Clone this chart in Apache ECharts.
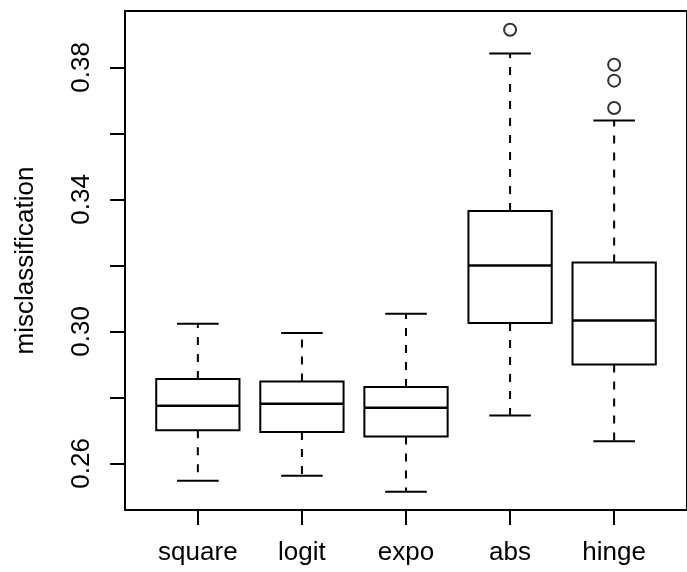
<!DOCTYPE html>
<html>
<head>
<meta charset="utf-8">
<title>misclassification by loss</title>
<script src="https://cdn.jsdelivr.net/npm/echarts@6/dist/echarts.min.js"></script>
<style>
  html, body { margin: 0; padding: 0; background: #ffffff; }
  #chart { width: 687px; height: 572px; }
</style>
</head>
<body>
<div id="chart"></div>
<script>
// Loss functions, one box each
const categories = ['square', 'logit', 'expo', 'abs', 'hinge'];

// Five-number summaries (whisker ends, hinges, median)
const lowerWhisker = [0.2548, 0.2563, 0.2514, 0.2745, 0.2667];
const lowerHinge   = [0.2701, 0.2695, 0.2682, 0.3026, 0.2900];
const medians      = [0.2775, 0.2781, 0.2769, 0.3200, 0.3033];
const upperHinge   = [0.2856, 0.2848, 0.2832, 0.3365, 0.3209];
const upperWhisker = [0.3023, 0.2995, 0.3054, 0.3842, 0.3639];

// Points beyond the whiskers: [box index (1-based), value]
const outliers = [
  [4, 0.3914],
  [5, 0.3808],
  [5, 0.3760],
  [5, 0.3677]
];

// Axis ticks and the subset that carries labels
const yTicks  = [0.26, 0.28, 0.30, 0.32, 0.34, 0.36, 0.38];
const yLabels = [0.26, 0.30, 0.34, 0.38];
const xTicks  = [1, 2, 3, 4, 5];

const FONT = '"Liberation Sans", Arial, Helvetica, sans-serif';
const INK = '#000000';
const LW = 2;

const boxData = categories.map((c, i) => [
  i + 1, lowerWhisker[i], lowerHinge[i], medians[i], upperHinge[i], upperWhisker[i]
]);

function renderBox(params, api) {
  const x = api.value(0);
  const pLo  = api.coord([x, api.value(1)]);
  const pQ1  = api.coord([x, api.value(2)]);
  const pMed = api.coord([x, api.value(3)]);
  const pQ3  = api.coord([x, api.value(4)]);
  const pHi  = api.coord([x, api.value(5)]);
  const boxW = api.size([0.8, 0])[0];
  const capW = boxW * 0.5;
  const cx = pMed[0];
  const solid = { stroke: INK, lineWidth: LW, fill: null };
  const dashed = { stroke: INK, lineWidth: LW, lineDash: [8, 9], fill: null };
  return {
    type: 'group',
    children: [
      // dashed whiskers
      { type: 'line', shape: { x1: cx, y1: pQ3[1], x2: cx, y2: pHi[1] }, style: dashed },
      { type: 'line', shape: { x1: cx, y1: pQ1[1], x2: cx, y2: pLo[1] }, style: dashed },
      // whisker caps
      { type: 'line', shape: { x1: cx - capW / 2, y1: pHi[1], x2: cx + capW / 2, y2: pHi[1] }, style: solid },
      { type: 'line', shape: { x1: cx - capW / 2, y1: pLo[1], x2: cx + capW / 2, y2: pLo[1] }, style: solid },
      // box between hinges
      { type: 'rect', shape: { x: cx - boxW / 2, y: pQ3[1], width: boxW, height: pQ1[1] - pQ3[1] },
        style: { stroke: INK, lineWidth: LW, fill: '#ffffff' } },
      // median
      { type: 'line', shape: { x1: cx - boxW / 2, y1: pMed[1], x2: cx + boxW / 2, y2: pMed[1] },
        style: { stroke: INK, lineWidth: LW + 0.6 } }
    ]
  };
}

const chart = echarts.init(document.getElementById('chart'), null, { renderer: 'canvas' });

chart.setOption({
  animation: false,
  backgroundColor: '#ffffff',
  grid: {
    left: 125, top: 11, width: 564, height: 499,
    show: true, borderColor: INK, borderWidth: LW, backgroundColor: 'transparent'
  },
  xAxis: {
    type: 'value',
    min: 0.3, max: 5.7,
    splitLine: { show: false },
    axisLine: { show: false },
    axisTick: { show: true, customValues: xTicks, length: 15, lineStyle: { color: INK, width: LW } },
    axisLabel: {
      show: true, customValues: xTicks, margin: 30,
      color: INK, fontFamily: FONT, fontSize: 26,
      formatter: v => categories[Math.round(v) - 1] || ''
    }
  },
  yAxis: {
    type: 'value',
    min: 0.2459, max: 0.3971,
    name: 'misclassification',
    nameLocation: 'middle',
    nameGap: 86,
    nameTextStyle: { color: INK, fontFamily: FONT, fontSize: 26 },
    splitLine: { show: false },
    axisLine: { show: false },
    axisTick: { show: true, customValues: yTicks, length: 15, lineStyle: { color: INK, width: LW } },
    axisLabel: {
      show: true, customValues: yLabels, rotate: 90, margin: 30,
      color: INK, fontFamily: FONT, fontSize: 26,
      formatter: v => v.toFixed(2)
    }
  },
  series: [
    {
      type: 'custom',
      renderItem: renderBox,
      data: boxData,
      encode: { x: 0, y: [1, 2, 3, 4, 5] },
      clip: false
    },
    {
      type: 'scatter',
      data: outliers,
      symbol: 'circle',
      symbolSize: 12,
      itemStyle: { color: '#ffffff', borderColor: INK, borderWidth: LW },
      silent: true
    }
  ]
});
</script>
</body>
</html>
